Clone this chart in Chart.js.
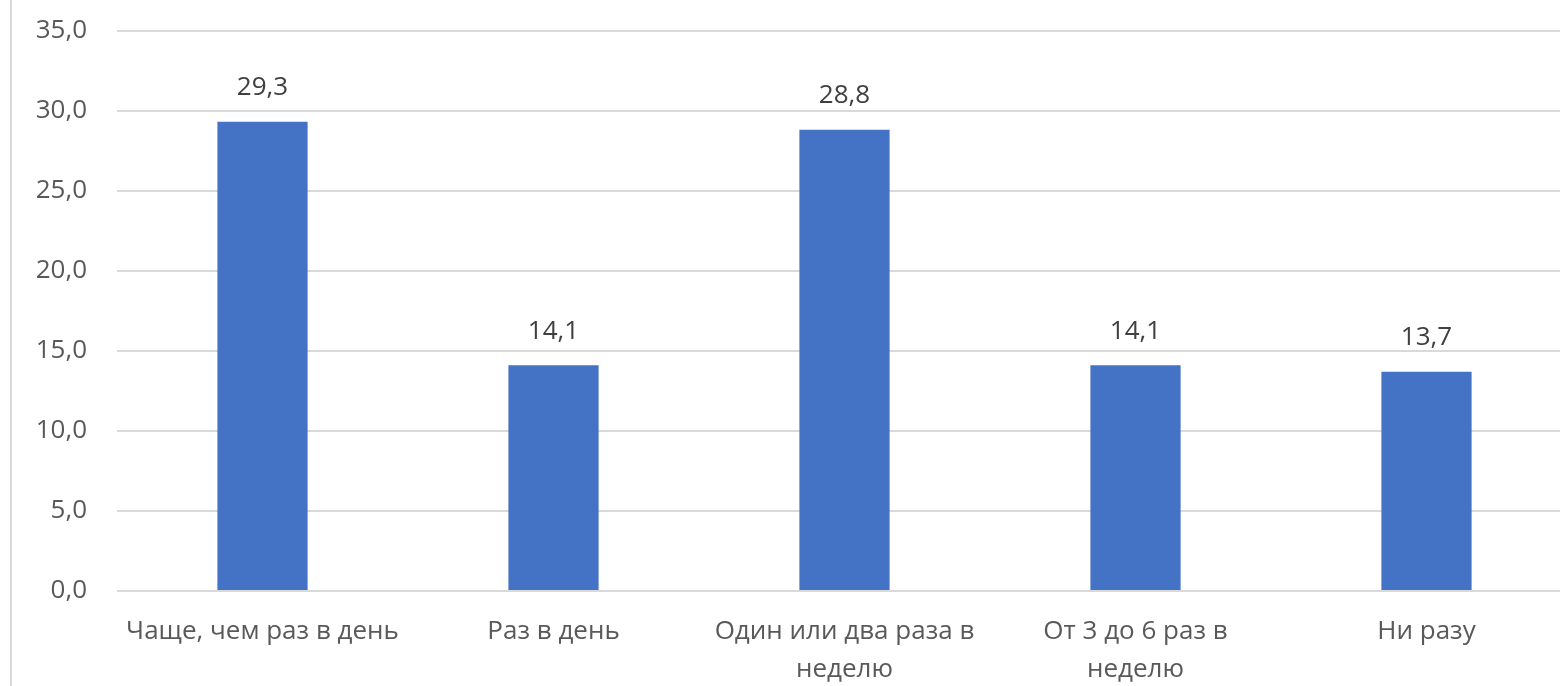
<!DOCTYPE html>
<html>
<head>
<meta charset="utf-8">
<script src="https://cdn.jsdelivr.net/npm/chart.js@4"></script>
<style>
    html, body { margin: 0; padding: 0; background: #fff; overflow: hidden; }
    #wrap { position: relative; width: 1572px; height: 701px; margin-top: -15px; }
</style>
</head>
<body>
<div id="wrap"><canvas id="freqChart"></canvas></div>
<script>
const categories = [
    "Чаще, чем раз в день",
    "Раз в день",
    ["Один или два раза в", "неделю"],
    ["От 3 до 6 раз в", "неделю"],
    "Ни разу"
];
const values = [29.3, 14.1, 28.8, 14.1, 13.7];
const yTicks = [0, 5, 10, 15, 20, 25, 30, 35];

const fontFamily = "'Open Sans', 'Noto Sans', sans-serif";

// numbers with comma like in the original (29,3)
function fmt(v) {
    return v.toFixed(1).replace(".", ",");
}

// value labels above bars + left frame line
const barLabels = {
    id: "barLabels",
    afterDatasetsDraw(chart) {
        const ctx = chart.ctx;
        const meta = chart.getDatasetMeta(0);
        ctx.save();
        ctx.font = "26px " + fontFamily;
        ctx.fillStyle = "#404040";
        ctx.textAlign = "center";
        ctx.textBaseline = "middle";
        meta.data.forEach((bar, i) => {
            ctx.fillText(fmt(values[i]), bar.x, bar.y - 34);
        });
        ctx.restore();
    },
    beforeDraw(chart) {
        const ctx = chart.ctx;
        ctx.save();
        ctx.strokeStyle = "#d9d9d9";
        ctx.lineWidth = 2;
        ctx.beginPath();
        ctx.moveTo(11, 0);
        ctx.lineTo(11, chart.height);
        ctx.stroke();
        ctx.restore();
    }
};

new Chart(document.getElementById("freqChart"), {
    type: "bar",
    data: {
        labels: categories,
        datasets: [{
            data: values,
            backgroundColor: "#4472C4",
            categoryPercentage: 1,
            barPercentage: 0.31
        }]
    },
    options: {
        responsive: true,
        maintainAspectRatio: false,
        animation: false,
        layout: { padding: { top: 18, right: 0, left: 0, bottom: 0 } },
        plugins: {
            legend: { display: false },
            tooltip: { enabled: false }
        },
        scales: {
            x: {
                grid: { display: false, drawTicks: false },
                border: { display: false },
                ticks: {
                    color: "#595959",
                    font: { family: fontFamily, size: 26, lineHeight: 1.46 },
                    padding: 22,
                    maxRotation: 0,
                    autoSkip: false
                },
                afterFit(scale) { scale.height = 95; }
            },
            y: {
                min: 0,
                max: 35,
                afterBuildTicks(scale) {
                    scale.ticks = yTicks.map(v => ({ value: v }));
                },
                grid: { color: "#d9d9d9", lineWidth: 2, drawTicks: false, tickLength: 0 },
                border: { display: false },
                ticks: {
                    color: "#595959",
                    font: { family: fontFamily, size: 26 },
                    padding: 30,
                    callback: v => fmt(v)
                },
                afterFit(scale) { scale.width = 117; }
            }
        }
    },
    plugins: [barLabels]
});
</script>
</body>
</html>
